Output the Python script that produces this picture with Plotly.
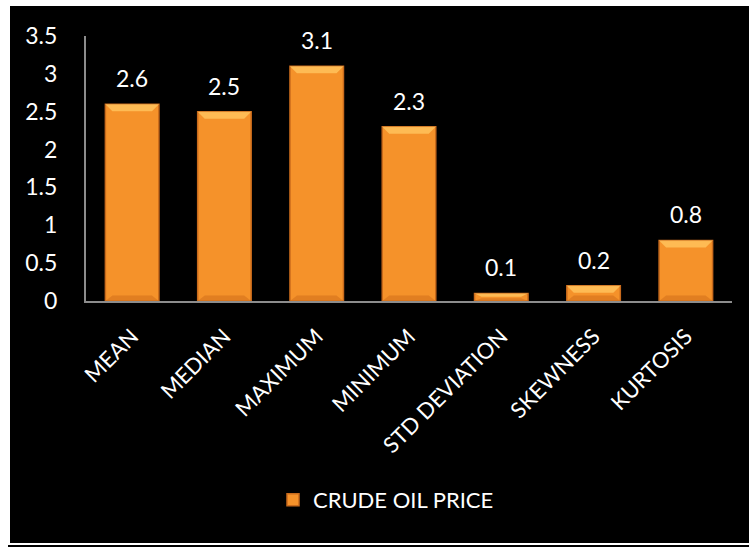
import plotly.graph_objects as go

# Descriptive statistics of crude oil price
categories = ["MEAN", "MEDIAN", "MAXIMUM", "MINIMUM", "STD DEVIATION", "SKEWNESS", "KURTOSIS"]
values = [2.6, 2.5, 3.1, 2.3, 0.1, 0.2, 0.8]
labels = ["2.6", "2.5", "3.1", "2.3", "0.1", "0.2", "0.8"]
y_ticks = [0, 0.5, 1, 1.5, 2, 2.5, 3, 3.5]
y_tick_text = ["0", "0.5", "1", "1.5", "2", "2.5", "3", "3.5"]
series_name = "CRUDE OIL PRICE"

FONT = "Lato"
W, H = 749, 547
L, R, T, B = 86, 17, 36, 246
pw, ph = W - L - R, H - T - B
Y_MAX = 3.5
BAR_W = 0.58


def px_x(p):
    return (p - L) / pw


def px_y(p):
    return (H - B - p) / ph


fig = go.Figure()
fig.add_trace(go.Bar(
    x=categories,
    y=values,
    name=series_name,
    marker=dict(color="#F5922A", line=dict(color="#C86A1C", width=1.5)),
    width=BAR_W,
    showlegend=True,
))

annotations = [
    dict(x=c, y=v, text=t, showarrow=False, yanchor="bottom", yshift=10,
         font=dict(family=FONT, size=23, color="white"))
    for c, v, t in zip(categories, values, labels)
]

shapes = [
    # black chart frame with thin white border
    dict(type="rect", xref="paper", yref="paper", layer="below",
         x0=px_x(10), x1=px_x(760), y0=px_y(543), y1=px_y(6),
         fillcolor="black", line=dict(width=0)),
    dict(type="rect", xref="paper", yref="paper", layer="below",
         x0=px_x(8), x1=px_x(760), y0=px_y(552), y1=px_y(545),
         fillcolor="black", line=dict(width=0)),
]

# bevel highlight along the top edge of each bar, shade along the bottom
units_per_px = Y_MAX / ph
cat_px = pw / len(categories)
for i, v in enumerate(values):
    d = min(7 * units_per_px, v * 0.45)
    dx = 7 / cat_px
    x0, x1 = i - BAR_W / 2, i + BAR_W / 2
    shapes.append(dict(
        type="path", xref="x", yref="y", layer="above",
        path=f"M {x0} {v} L {x1} {v} L {x1 - dx} {v - d} L {x0 + dx} {v - d} Z",
        fillcolor="#FFC25C", opacity=0.85, line=dict(width=0),
    ))
    shapes.append(dict(
        type="path", xref="x", yref="y", layer="above",
        path=f"M {x0} 0 L {x1} 0 L {x1 - dx} {d * 0.8} L {x0 + dx} {d * 0.8} Z",
        fillcolor="#D9761E", opacity=0.7, line=dict(width=0),
    ))

fig.update_layout(
    width=W, height=H,
    margin=dict(l=L, r=R, t=T, b=B, pad=0),
    paper_bgcolor="white",
    plot_bgcolor="#404040",
    font=dict(family=FONT, size=22, color="white"),
    bargap=0.42,
    xaxis=dict(
        tickangle=-45,
        tickfont=dict(family=FONT, size=22, color="white"),
        showline=True, linecolor="#8c8c8c", linewidth=2,
        ticks="", ticklabelstandoff=12,
        showgrid=False,
    ),
    yaxis=dict(
        range=[0, Y_MAX],
        tickvals=y_ticks, ticktext=y_tick_text,
        tickfont=dict(family=FONT, size=23, color="white"),
        showline=True, linecolor="#8c8c8c", linewidth=2,
        ticks="", ticklabelstandoff=22,
        showgrid=False, zeroline=False,
    ),
    legend=dict(
        orientation="h", x=px_x(386), y=px_y(500),
        xanchor="center", yanchor="middle",
        font=dict(family=FONT, size=22, color="white"),
        bgcolor="rgba(0,0,0,0)",
    ),
    annotations=annotations,
    shapes=shapes,
)

fig.write_html("out.html")
